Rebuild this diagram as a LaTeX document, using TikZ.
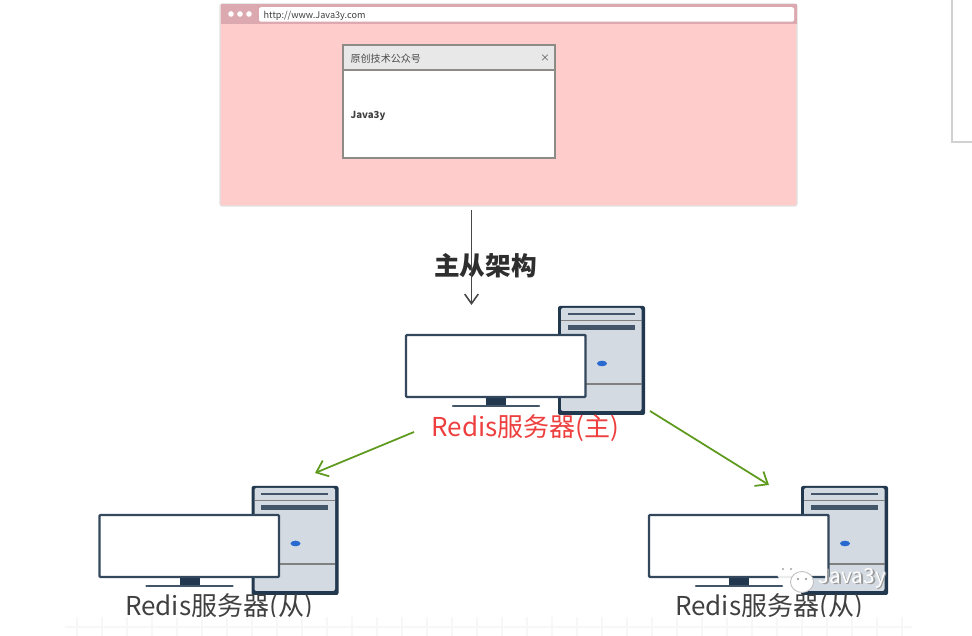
\documentclass[tikz,border=0pt]{standalone}
\usepackage{fontspec}
\setmainfont{Noto Sans CJK SC}
\usetikzlibrary{arrows.meta}
\definecolor{darkframe}{HTML}{22384F}
\definecolor{towerfill}{HTML}{D3DAE2}
\definecolor{pinkbar}{HTML}{DDA9B0}
\definecolor{pinkpage}{HTML}{FFCCCC}
\definecolor{dialogline}{HTML}{8E8A86}
\definecolor{greenline}{HTML}{5E9A1E}
\definecolor{redtext}{HTML}{EE3F3F}
\definecolor{ledblue}{HTML}{2A6AD0}
\tikzset{
  box/.style={
    draw, rectangle, inner sep=0mm, outer sep=0mm
  },
  caption/.style={
    inner sep=0mm, font=\fontsize{7.4}{9}\selectfont, text=black!75
  },
  greenarrow/.style={
    -{Straight Barb[length=1.05mm,width=1.7mm]}, greenline, line width=0.5pt
  },
  pics/machine/.style={
    code={
      % tower
      \fill[darkframe, rounded corners=0.2mm] (1.52, 0.29) rectangle (2.39, -0.80);
      \fill[towerfill, rounded corners=0.2mm] (1.55, 0.27) rectangle (2.355, -0.76);
      \draw[darkframe!85, line width=0.55pt] (1.62, 0.21) -- (2.285, 0.21);
      \draw[gray, line width=0.25pt] (1.55, 0.15) -- (2.355, 0.15);
      \fill[darkframe!85] (1.62, 0.10) rectangle (2.285, 0.045);
      \fill[ledblue] (1.96, -0.285) ellipse (0.05 and 0.028);
      \draw[gray, line width=0.3pt] (1.55, -0.49) -- (2.355, -0.49);
      % monitor
      \fill[darkframe] (0.80, -0.62) rectangle (1.00, -0.71);
      \draw[darkframe!85, line width=0.75pt, line cap=round] (0.47, -0.71) -- (1.33, -0.71);
      \draw[darkframe!92, fill=white, line width=0.7pt, rounded corners=0.1mm] (0, 0) rectangle (1.795, -0.62);
    }
  }
}
\begin{document}
\begin{tikzpicture}
 \useasboundingbox (0, 0) rectangle (9.72, -6.36);

 % corner of the next panel
 \draw[black!18, line width=0.3pt] (9.72, -1.42) -- (9.52, -1.42) -- (9.52, 0);

 % browser
 \node[box, draw=black!12, fill=pinkpage, rounded corners=0.2mm, line width=0.3pt, minimum width=57.7mm, minimum height=20.2mm] (browser) at (5.085, -1.05) {};
 \fill[pinkbar] (2.205, -0.045) rectangle (7.965, -0.245);
 \foreach \i in {2.31, 2.40, 2.49} {
   \fill[white] (\i, -0.14) circle (0.028);
 }
 \node[box, draw=none, fill=white, rounded corners=0.2mm, minimum width=53.5mm, minimum height=1.45mm] (urlbar) at (5.265, -0.145) {};
 \node[anchor=west, inner sep=0mm, text=black!75, font=\fontsize{2.6}{3}\selectfont] (urltext) at (2.63, -0.155) {http://www.Java3y.com};

 % dialog
 \node[box, draw=dialogline, fill=white, line width=0.45pt, minimum width=21.2mm, minimum height=11.3mm] (dialog) at (4.49, -1.015) {};
 \node[box, draw=dialogline, fill=black!9, line width=0.45pt, minimum width=21.2mm, minimum height=2.45mm] (dialogbar) at (4.49, -0.575) {};
 \node[anchor=west, inner sep=0mm, text=black!70, font=\fontsize{2.85}{3}\selectfont] (dialogtitle) at (3.50, -0.59) {原创技术公众号};
 \node[inner sep=0mm, text=black!70, font=\fontsize{2.7}{3}\selectfont] (dialogclose) at (5.45, -0.58) {×};
 \node[anchor=west, inner sep=0mm, text=black!75, font=\bfseries\fontsize{2.75}{3}\selectfont] (dialogtext) at (3.50, -1.155) {Java3y};

 % machines
 \pic (master) at (4.06, -3.35) {machine};
 \pic (slavea) at (0.995, -5.15) {machine};
 \pic (slaveb) at (6.49, -5.15) {machine};

 \node[inner sep=0mm, text=black!82, font=\bfseries\fontsize{7.3}{9}\selectfont] (title) at (4.855, -2.655) {主从架构};
 \node[caption, text=redtext] (masterlabel) at (5.255, -4.285) {Redis服务器(主)};
 \node[caption] (slavealabel) at (2.19, -6.075) {Redis服务器(从)};
 \node[caption] (slaveblabel) at (7.69, -6.075) {Redis服务器(从)};

 % the lower edge of the picture
 \fill[white] (0, -6.17) rectangle (9.72, -6.36);
 \foreach \i in {0.77, 1.02, ..., 9.1} {
   \draw[black!3, line width=0.3pt] (\i, -6.17) -- (\i, -6.36);
 }
 \draw[black!3, line width=0.3pt] (0.65, -6.27) -- (9.12, -6.27);

 % arrows
 \coordinate (arrowtop) at (4.715, -2.10);
 \coordinate (arrowbot) at (4.715, -3.05);
 \coordinate (lefttop) at (4.14, -4.32);
 \coordinate (leftbot) at (3.15, -4.73);
 \coordinate (righttop) at (6.50, -4.11);
 \coordinate (rightbot) at (7.69, -4.85);
 \draw[-{Straight Barb[length=0.95mm,width=1.35mm]}, black!72, line width=0.45pt] (arrowtop) -- (arrowbot);
 \draw[greenarrow] (lefttop) -- (leftbot);
 \draw[greenarrow] (righttop) -- (rightbot);

 % watermark
 \node[anchor=west, inner sep=0mm, text=black!40, font=\fontsize{5.9}{6}\selectfont] (markshade) at (8.195, -5.795) {Java3y};
 \node[anchor=west, inner sep=0mm, text=white, font=\fontsize{5.9}{6}\selectfont] (mark) at (8.18, -5.78) {Java3y};
 \fill[white, opacity=0.9] (7.87, -5.73) ellipse (0.10 and 0.09);
 \fill[white, draw=black!25, line width=0.25pt] (8.02, -5.82) ellipse (0.115 and 0.105);
 \foreach \i in {7.83, 7.91} {
   \fill[black!35] (\i, -5.69) circle (0.012);
 }
 \foreach \i in {7.98, 8.06} {
   \fill[black!45] (\i, -5.79) circle (0.012);
 }

\end{tikzpicture}
\end{document}
